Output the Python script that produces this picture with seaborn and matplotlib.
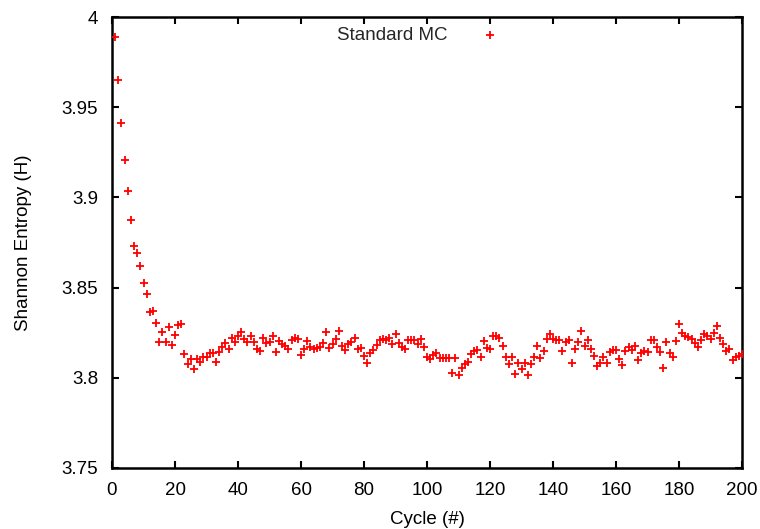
import matplotlib
matplotlib.use("Agg")
import matplotlib.pyplot as plt
import seaborn as sns
import pandas as pd
import numpy as np
from matplotlib.ticker import FuncFormatter

cycles = list(range(1, 201))
entropy = [
    3.989, 3.965, 3.941, 3.9206, 3.9037, 3.8875, 3.873, 3.8693, 3.8621, 3.8523,
    3.8467, 3.8362, 3.8369, 3.8303, 3.8197, 3.8256, 3.8197, 3.8284, 3.8184, 3.8238,
    3.8295, 3.830, 3.8133, 3.8077, 3.8105, 3.8048, 3.8105, 3.8087, 3.8118, 3.8113,
    3.814, 3.814, 3.8087, 3.8142, 3.8173, 3.8192, 3.816, 3.822, 3.8198, 3.8233,
    3.8253, 3.8216, 3.8198, 3.8233, 3.8201, 3.8159, 3.8146, 3.8223, 3.8194, 3.8201,
    3.8229, 3.8142, 3.8203, 3.8188, 3.8179, 3.816, 3.821, 3.822, 3.8216, 3.8127,
    3.8159, 3.8205, 3.8173, 3.8162, 3.8164, 3.8173, 3.8192, 3.8253, 3.8164, 3.8186,
    3.8216, 3.8262, 3.8179, 3.8155, 3.8188, 3.8196, 3.8223, 3.8159, 3.8164, 3.8123,
    3.8084, 3.8137, 3.8155, 3.8183, 3.8207, 3.8216, 3.821, 3.822, 3.819, 3.8244,
    3.8192, 3.8173, 3.8159, 3.821, 3.8207, 3.821, 3.8186, 3.8214, 3.8169, 3.8118,
    3.8103, 3.8127, 3.8137, 3.8109, 3.8109, 3.8112, 3.8112, 3.8029, 3.8112, 3.8016,
    3.8057, 3.8075, 3.809, 3.8133, 3.8151, 3.8155, 3.8118, 3.8205, 3.8164, 3.8159,
    3.8234, 3.8234, 3.8223, 3.8179, 3.8114, 3.8075, 3.8114, 3.8022, 3.8084, 3.8049,
    3.8084, 3.8016, 3.8075, 3.8114, 3.8177, 3.8109, 3.8151, 3.8214, 3.8242, 3.8216,
    3.821, 3.8207, 3.8151, 3.8196, 3.821, 3.8084, 3.8159, 3.8196, 3.826, 3.8179,
    3.821, 3.8159, 3.8123, 3.8068, 3.8084, 3.8118, 3.8084, 3.8142, 3.8155, 3.8155,
    3.8103, 3.8072, 3.8146, 3.8173, 3.8155, 3.8179, 3.810, 3.8137, 3.8146, 3.8142,
    3.821, 3.821, 3.8169, 3.8142, 3.8057, 3.8196, 3.8137, 3.8114, 3.8205, 3.8298,
    3.8248, 3.8234, 3.8225, 3.8214, 3.8192, 3.8169, 3.821, 3.8242, 3.8233, 3.8214,
    3.8248, 3.8285, 3.8223, 3.8186, 3.8149, 3.8159, 3.8096, 3.8118, 3.8122, 3.813,
]
series_label = "Standard MC"
x_ticks = list(range(0, 201, 20))
y_ticks = [3.75, 3.8, 3.85, 3.9, 3.95, 4.0]

sns.set_theme(style="white")
plt.rcParams['font.family'] = ['Liberation Sans', 'DejaVu Sans']

df = pd.DataFrame({"cycle": cycles, "H": entropy})

fig = plt.figure(figsize=(7.6, 5.29), dpi=100)
ax = fig.add_axes([112/760, 1-468/529, (742-112)/760, (468-17)/529])

sns.scatterplot(data=df, x="cycle", y="H", marker="+", color="#ff0000",
                s=40, linewidth=1.3, label=series_label, ax=ax, zorder=3)

ax.set_xlim(0, 200)
ax.set_ylim(3.75, 4.0)
ax.set_xticks(x_ticks)
ax.set_yticks(y_ticks)
ax.yaxis.set_major_formatter(FuncFormatter(lambda v, p: "%g" % round(v, 2)))

for s in ax.spines.values():
    s.set_visible(True)
    s.set_color("black")
    s.set_linewidth(1.8)

ax.tick_params(axis="both", which="major", direction="in", length=5, width=1.5,
               top=True, right=True, bottom=True, left=True,
               labelsize=13.5, colors="black", pad=10)
ax.tick_params(axis="x", pad=10)

ax.set_xlabel("Cycle (#)", fontsize=13.5, labelpad=9, color="black")
ax.set_ylabel("Shannon Entropy (H)", fontsize=13.5, labelpad=21, color="black")

leg = ax.legend(loc="upper left", bbox_to_anchor=(0.357, 0.978), frameon=False,
                markerfirst=False, fontsize=13.5, handlelength=2.0,
                handletextpad=1.25, borderpad=0, borderaxespad=0)

fig.savefig("out.png", dpi=100)
